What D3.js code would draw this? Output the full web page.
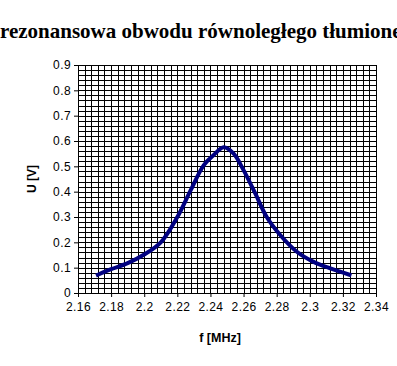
<!DOCTYPE html>
<html><head><meta charset="utf-8">
<script src="https://cdn.jsdelivr.net/npm/d3@7"></script>
<style>body{margin:0;background:#fff;overflow:hidden}svg{display:block}</style>
</head><body>
<script>
const titleText = "rezonansowa obwodu równoległego tłumione";
const xLabel = "f [MHz]";
const yLabel = "U [V]";
const freq = [2.172, 2.18, 2.19, 2.2, 2.21, 2.22, 2.228, 2.236, 2.242, 2.248, 2.254, 2.26, 2.267, 2.274, 2.282, 2.292, 2.302, 2.312, 2.324];
const volt = [0.072, 0.094, 0.118, 0.152, 0.2, 0.3, 0.405, 0.505, 0.545, 0.575, 0.55, 0.485, 0.394, 0.3, 0.23, 0.164, 0.124, 0.098, 0.072];
const xTicks = [2.16, 2.18, 2.2, 2.22, 2.24, 2.26, 2.28, 2.3, 2.32, 2.34];
const yTicks = [0, 0.1, 0.2, 0.3, 0.4, 0.5, 0.6, 0.7, 0.8, 0.9];

const W = 397, H = 366;
const m = {left: 78, right: 21, top: 65, bottom: 73};
const svg = d3.select("body").append("svg").attr("width", W).attr("height", H);
const x = d3.scaleLinear().domain([2.16, 2.34]).range([m.left, W - m.right]);
const y = d3.scaleLinear().domain([0, 0.9]).range([H - m.bottom, m.top]);

const g = svg.append("g");
const xMinor = d3.range(0, 46).map(i => 2.16 + i * 0.004);
const yMinor = d3.range(0, 46).map(i => i * 0.02);
g.selectAll("line.vx").data(xMinor).join("line")
  .attr("x1", d => Math.round(x(d)) + 0.5).attr("x2", d => Math.round(x(d)) + 0.5)
  .attr("y1", y(0.9)).attr("y2", y(0)).attr("stroke", "#000").attr("stroke-width", 1);
g.selectAll("line.hy").data(yMinor).join("line")
  .attr("y1", d => Math.round(y(d)) + 0.5).attr("y2", d => Math.round(y(d)) + 0.5)
  .attr("x1", x(2.16)).attr("x2", x(2.34)).attr("stroke", "#000").attr("stroke-width", 1);

const xAxis = d3.axisBottom(x).tickValues(xTicks).tickSize(4).tickSizeOuter(0).tickFormat(d => d3.format("")(+d.toFixed(2)));
const yAxis = d3.axisLeft(y).tickValues(yTicks).tickSize(4).tickSizeOuter(0).tickFormat(d => d3.format("")(+d.toFixed(1)));
const ax = svg.append("g").attr("transform", `translate(0,${y(0)})`).call(xAxis);
const ay = svg.append("g").attr("transform", `translate(${x(2.16)},0)`).call(yAxis);
[ax, ay].forEach(a => {
  a.selectAll("text").attr("font-family", "Liberation Sans, Arial, sans-serif").attr("font-size", 12).attr("letter-spacing", 0.4).attr("fill", "#000");
  a.selectAll("line,path").attr("stroke", "#000");
});
ax.selectAll("text").attr("dy", "0.95em");

const line = d3.line().x((d, i) => x(freq[i])).y(d => y(d)).curve(d3.curveCatmullRom.alpha(0.5));
svg.append("path").datum(volt).attr("d", line)
  .attr("fill", "none").attr("stroke", "#000080").attr("stroke-width", 4).attr("stroke-linejoin", "round").attr("stroke-linecap", "square");

svg.append("text").attr("x", 0).attr("y", 38).text(titleText)
  .attr("font-family", "Liberation Serif, Times New Roman, serif").attr("font-weight", "bold").attr("font-size", 21);
svg.append("text").attr("x", 220).attr("y", 342).attr("text-anchor", "middle").text(xLabel)
  .attr("font-family", "Liberation Sans, Arial, sans-serif").attr("font-weight", "bold").attr("font-size", 12.5);
svg.append("text").attr("transform", `translate(36,${(y(0)+y(0.9))/2}) rotate(-90)`).attr("text-anchor", "middle").text(yLabel)
  .attr("font-family", "Liberation Sans, Arial, sans-serif").attr("font-weight", "bold").attr("font-size", 12);
</script>
</body></html>
